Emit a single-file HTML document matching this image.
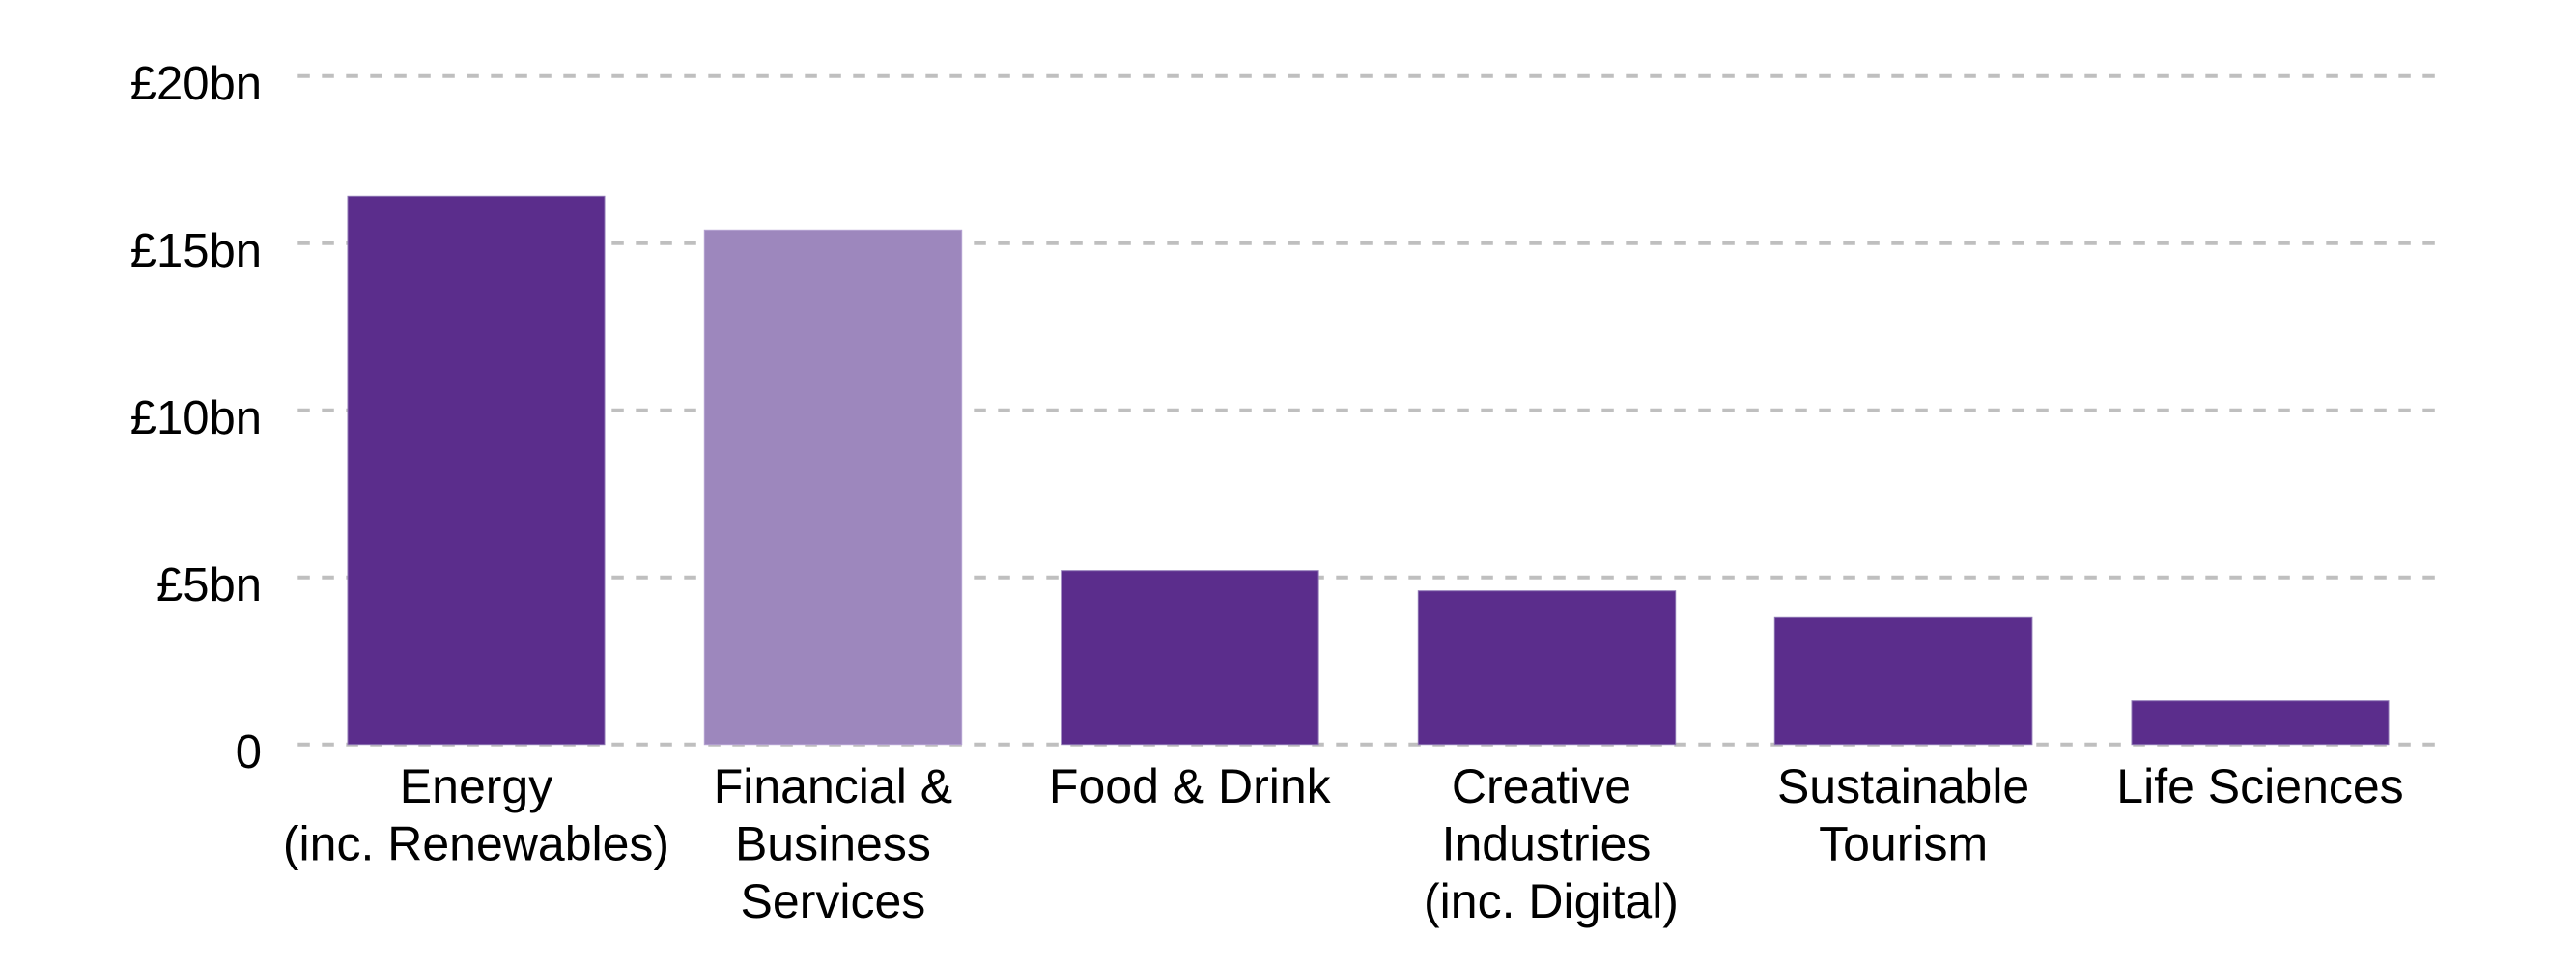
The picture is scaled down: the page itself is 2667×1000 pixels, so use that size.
<!DOCTYPE html>
<html>
<head>
<meta charset="utf-8">
<style>
  html, body { margin: 0; padding: 0; background: #ffffff; }
  svg { display: block; }
  text { font-family: "Liberation Sans", Arial, sans-serif; fill: #000; }
</style>
</head>
<body>
<svg width="2667" height="1000" viewBox="0 0 2667 1000" xmlns="http://www.w3.org/2000/svg">
  <rect x="0" y="0" width="2667" height="1000" fill="#ffffff"/>
  <!-- gridlines -->
  <g stroke="#bfbfbf" stroke-width="4" stroke-dasharray="12.5 12.5" fill="none">
    <line x1="308.3" y1="78.7" x2="2522" y2="78.7"/>
    <line x1="308.3" y1="251.7" x2="2522" y2="251.7"/>
    <line x1="308.3" y1="424.7" x2="2522" y2="424.7"/>
    <line x1="308.3" y1="597.7" x2="2522" y2="597.7"/>
    <line x1="308.3" y1="770.7" x2="2522" y2="770.7"/>
  </g>
  <!-- y labels -->
  <g font-size="49" text-anchor="end">
    <text x="271" y="103">£20bn</text>
    <text x="271" y="276">£15bn</text>
    <text x="271" y="449">£10bn</text>
    <text x="271" y="622">£5bn</text>
    <text x="271" y="795">0</text>
  </g>
  <!-- bars -->
  <g stroke-width="1">
    <rect x="360" y="203.3" width="266" height="567.4" fill="#5b2d8c" stroke="#8f78b5"/>
    <rect x="729.3" y="238.3" width="266.4" height="532.4" fill="#9d87bd" stroke="#b6a3d2"/>
    <rect x="1098.7" y="590.7" width="266.4" height="180" fill="#5b2d8c" stroke="#8f78b5"/>
    <rect x="1468.3" y="611.7" width="266.4" height="159" fill="#5b2d8c" stroke="#8f78b5"/>
    <rect x="1837.3" y="639.3" width="266.6" height="131.4" fill="#5b2d8c" stroke="#8f78b5"/>
    <rect x="2207" y="725.7" width="266" height="45" fill="#5b2d8c" stroke="#8f78b5"/>
  </g>
  <!-- category labels -->
  <g font-size="50" text-anchor="middle">
    <text x="493" y="831">Energy</text>
    <text x="493" y="890.5">(inc. Renewables)</text>

    <text x="862.4" y="831">Financial &amp;</text>
    <text x="862.4" y="890.5">Business</text>
    <text x="862.4" y="950">Services</text>

    <text x="1231.8" y="831">Food &amp; Drink</text>

    <text x="1596" y="831">Creative</text>
    <text x="1601" y="890.5">Industries</text>
    <text x="1606" y="950">(inc. Digital)</text>

    <text x="1970.6" y="831">Sustainable</text>
    <text x="1970.6" y="890.5">Tourism</text>

    <text x="2340" y="831">Life Sciences</text>
  </g>
</svg>
</body>
</html>
